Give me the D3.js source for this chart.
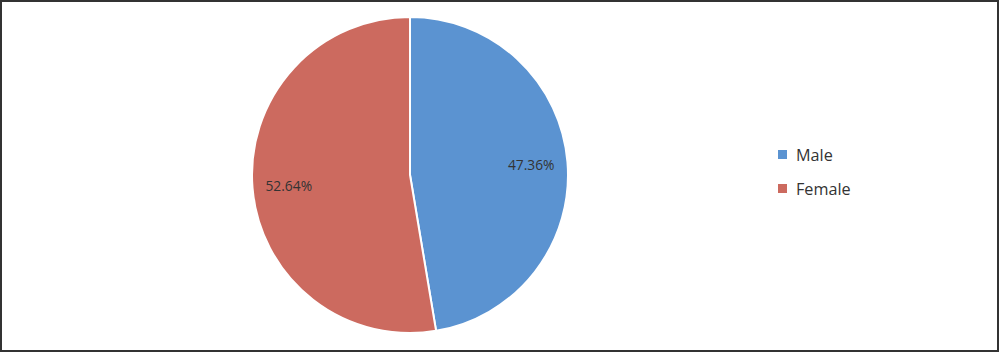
<!DOCTYPE html>
<html><head><meta charset="utf-8">
<script src="https://cdn.jsdelivr.net/npm/d3@7"></script>
<style>html,body{margin:0;padding:0;background:#fff;}svg{display:block;}</style>
</head><body>
<svg id="c" width="1000" height="353"></svg>
<script>
const categories = ["Male", "Female"];
const values = [47.36, 52.64];
const labels = ["47.36%", "52.64%"];
const colors = ["#5B93D1", "#CC6A5F"];

const svg = d3.select("#c");
svg.append("rect").attr("x",1).attr("y",1).attr("width",997).attr("height",350)
  .attr("fill","#fff").attr("stroke","#333").attr("stroke-width",2);

const cx = 410, cy = 175, r = 158;
const pie = d3.pie().sort(null).value(d => d)(values);
const arc = d3.arc().innerRadius(0).outerRadius(r);
const g = svg.append("g").attr("transform", `translate(${cx},${cy})`);
g.selectAll("path").data(pie).join("path")
  .attr("d", arc).attr("fill", (d,i) => colors[i])
  .attr("stroke", "#fff").attr("stroke-width", 2);
const lab = d3.arc().innerRadius(r*0.77).outerRadius(r*0.77);
g.selectAll("text").data(pie).join("text")
  .attr("transform", d => `translate(${lab.centroid(d)})`)
  .attr("text-anchor","middle").attr("dominant-baseline","central")
  .attr("font-family","Open Sans, sans-serif").attr("font-size",13.8)
  .attr("fill","#333").text((d,i) => labels[i]);

const leg = svg.append("g");
categories.forEach((c,i) => {
  const y = 155 + i*34;
  leg.append("rect").attr("x",778).attr("y",y-5).attr("width",9).attr("height",9).attr("fill",colors[i]);
  leg.append("text").attr("x",796).attr("y",y).attr("dominant-baseline","central")
    .attr("font-family","Open Sans, sans-serif").attr("font-size",16.2).attr("fill","#333").text(c);
});
</script>
</body></html>
